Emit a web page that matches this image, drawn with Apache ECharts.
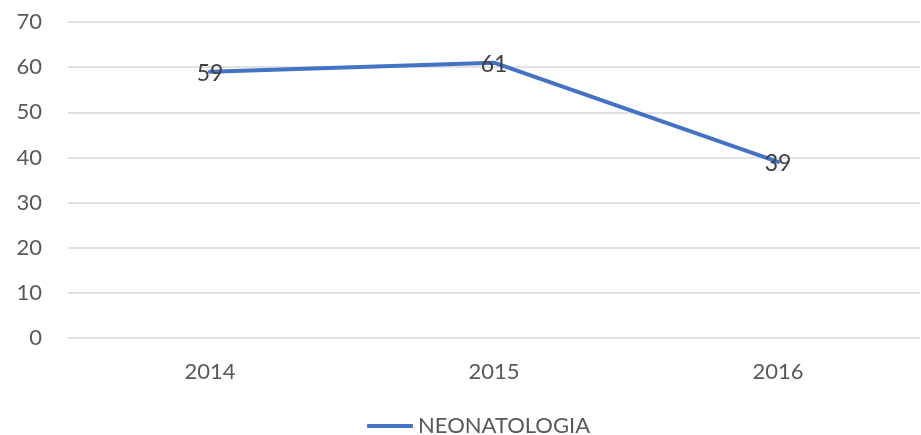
<!DOCTYPE html>
<html>
<head>
<meta charset="utf-8">
<script src="https://cdn.jsdelivr.net/npm/echarts@6/dist/echarts.min.js"></script>
<style>
  html, body { margin: 0; padding: 0; background: #fff; }
  #chart { width: 921px; height: 435px; }
</style>
</head>
<body>
<div id="chart"></div>
<script>
const years = ["2014", "2015", "2016"];
const neonatologia = [59, 61, 39];
const yTicks = { min: 0, max: 70, interval: 10 };

const chart = echarts.init(document.getElementById("chart"));

chart.setOption({
  animation: false,
  textStyle: { fontFamily: "Lato" },
  grid: { left: 68, right: 1, top: 22, bottom: 97, containLabel: false },
  legend: {
    top: 410,
    left: 362,
    icon: "roundRect",
    itemWidth: 46,
    itemHeight: 4,
    itemGap: 10,
    textStyle: { color: "#595959", fontSize: 22, fontFamily: "Lato" },
    data: ["NEONATOLOGIA"]
  },
  xAxis: {
    type: "category",
    data: years,
    boundaryGap: true,
    axisLine: { show: false },
    axisTick: { show: false },
    axisLabel: { color: "#595959", fontSize: 22, margin: 23 }
  },
  yAxis: {
    type: "value",
    min: yTicks.min,
    max: yTicks.max,
    interval: yTicks.interval,
    axisLine: { show: false },
    axisTick: { show: false },
    axisLabel: { color: "#595959", fontSize: 22, margin: 26 },
    splitLine: { lineStyle: { color: "#d9d9d9", width: 1.5 } }
  },
  series: [{
    name: "NEONATOLOGIA",
    type: "line",
    data: neonatologia,
    symbol: "circle",
    symbolSize: 0,
    showSymbol: true,
    lineStyle: { color: "#4472C4", width: 4, cap: "round", join: "round" },
    itemStyle: { color: "#4472C4" },
    label: {
      show: true,
      position: "inside",
      offset: [0, 2],
      color: "#404040",
      fontSize: 23,
      fontFamily: "Lato"
    }
  }]
});

window.addEventListener("resize", () => {
  if (chart) {
    chart.resize();
  }
});
</script>
</body>
</html>
